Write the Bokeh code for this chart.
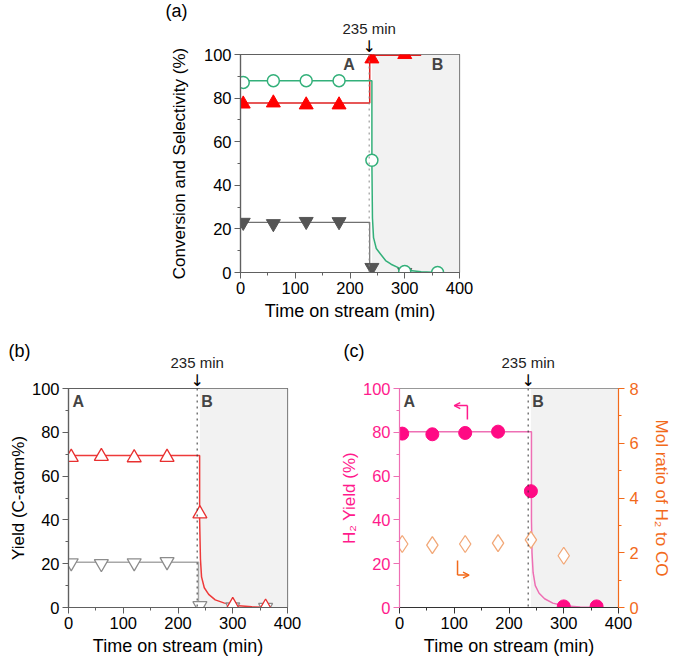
from bokeh.plotting import figure
from bokeh.layouts import column, row
from bokeh.models import (Range1d, LinearAxis, SingleIntervalTicker, Label, Arrow, Title,
                          OpenHead, Span, BoxAnnotation, Spacer)
from bokeh.embed import file_html
from bokeh.resources import INLINE

FONT = "Liberation Sans"

# ---------------- data ----------------
# panel (a)
a_conv_t = [5, 60, 120, 180, 240, 300, 360]
a_conv = [87.2, 88.0, 88.0, 88.0, 51.5, 0.5, 0.0]
a_red_t = [5, 60, 120, 180, 240, 300]
a_red = [77.3, 77.8, 76.9, 76.9, 98.0, 100.0]
a_gray_t = [5, 60, 120, 180, 240, 300]
a_gray = [23.0, 22.4, 23.4, 23.3, 2.3, 0.0]
a_conv_line_x = [5, 240, 240, 241, 243, 248, 256, 265, 275, 290, 305, 330, 360]
a_conv_line_y = [88, 88, 50, 25, 16, 11, 8.4, 5.5, 3.8, 2, 1, 0.3, 0]
a_red_line_x = [5, 236, 236, 330]
a_red_line_y = [77.8, 77.8, 99.6, 99.6]
a_gray_line_x = [5, 236, 236, 330]
a_gray_line_y = [23, 23, 0, 0]

# panel (b)
b_t = [5, 60, 120, 180, 240, 300, 360]
b_red = [68.6, 69.0, 68.4, 68.6, 42.8, 0.9, 0.2]
b_gray = [20.4, 20.0, 20.4, 20.9, 0.8, 0.2, 0.0]
b_red_line_x = [0, 239.5, 239.5, 241, 243, 248, 256, 268, 285, 305, 335, 360]
b_red_line_y = [69.4, 69.4, 40, 22, 14, 9, 6, 3.5, 2, 0.9, 0.3, 0.1]
b_gray_line_x = [0, 237.5, 237.5]
b_gray_line_y = [20.7, 20.7, 0]

# panel (c)
c_t = [5, 60, 120, 180, 240, 300, 360]
c_h2 = [79.4, 79.1, 79.7, 80.3, 53.1, 0.5, 0.5]
c_ratio_t = [5, 60, 120, 180, 240, 300]
c_ratio = [2.32, 2.28, 2.32, 2.35, 2.47, 1.89]
c_line_x = [0, 241, 241, 242, 244, 248, 255, 265, 280, 300, 330, 360]
c_line_y = [80.2, 80.2, 40, 25, 16, 10, 6.5, 4, 2, 0.8, 0.2, 0]

x_ticks_interval = 100
y_ticks_interval = 20
ratio_ticks_interval = 2
switch_time = 235
shade_start = 240
X_MAX = 400
FRAME_W = 219
FRAME_H = 219

AXIS_GRAY = "#606060"
PINK = "#ff1a8c"
PINK_LINE = "#ee6fb4"
ORANGE = "#f26a1b"
ORANGE_LIGHT = "#f2a878"


def style_axis(ax, line_color, text_color):
    ax.axis_line_color = line_color
    ax.axis_line_width = 1.2
    ax.major_tick_line_color = line_color
    ax.minor_tick_line_color = line_color
    ax.major_tick_out = 6
    ax.major_tick_in = 0
    ax.minor_tick_out = 3
    ax.minor_tick_in = 0
    ax.major_label_text_font = FONT
    ax.major_label_text_font_size = "16.5px"
    ax.major_label_text_color = text_color
    ax.major_label_standoff = 3
    ax.axis_label_text_font = FONT
    ax.axis_label_text_font_style = "normal"
    ax.axis_label_text_color = text_color
    ax.axis_label_standoff = 4


def make_fig(left, right, top, bottom, tag, tag_offset, tag_standoff, ylabel_standoff):
    p = figure(width=left + FRAME_W + right, height=top + FRAME_H + bottom,
               x_range=Range1d(0, X_MAX), y_range=Range1d(0, 100),
               output_backend="svg", toolbar_location=None,
               min_border_left=left, min_border_right=right,
               min_border_top=top, min_border_bottom=bottom)
    p.xgrid.visible = False
    p.ygrid.visible = False
    p.background_fill_color = "white"
    p.border_fill_color = "white"
    p.outline_line_color = AXIS_GRAY
    p.outline_line_width = 1.2
    p.xaxis.ticker = SingleIntervalTicker(interval=x_ticks_interval, num_minor_ticks=2)
    p.yaxis.ticker = SingleIntervalTicker(interval=y_ticks_interval, num_minor_ticks=2)
    for ax in [p.xaxis[0], p.yaxis[0]]:
        style_axis(ax, AXIS_GRAY, "black")
    p.xaxis.axis_label = "Time on stream (min)"
    p.xaxis.axis_label_text_font_size = "18px"
    p.yaxis.axis_label_text_font_size = "17px"
    p.yaxis.axis_label_standoff = ylabel_standoff
    p.add_layout(BoxAnnotation(left=shade_start, fill_color="#f2f2f2", fill_alpha=1.0,
                               line_color=None, level="underlay"))
    # texts above the frame: arrow (closest), "235 min", panel tag (outermost)
    x_px = switch_time / X_MAX * FRAME_W
    p.add_layout(Title(text="↓", align="left", offset=x_px - 6.7, standoff=-3,
                       text_font="DejaVu Sans", text_font_size="16px",
                       text_font_style="normal", text_color="black"), "above")
    p.add_layout(Title(text="235 min", align="left", offset=x_px - 26.7, standoff=-1,
                       text_font=FONT, text_font_size="15px", text_font_style="normal",
                       text_color="#222222"), "above")
    p.title.text = tag
    p.title.align = "left"
    p.title.offset = tag_offset
    p.title.standoff = tag_standoff
    p.title.text_font = FONT
    p.title.text_font_size = "18px"
    p.title.text_font_style = "normal"
    p.title.text_color = "black"
    return p


def add_dotted(p, color):
    p.add_layout(Span(location=switch_time, dimension="height", line_color=color,
                      line_dash="dotted", line_width=1))


def add_text(p, txt, x, y, bold=True, size="16px"):
    p.add_layout(Label(x=x, y=y, text=txt, text_font=FONT, text_font_size=size,
                       text_align="center", text_baseline="middle",
                       text_font_style="bold" if bold else "normal"))


# ---------------- panel (a) ----------------
pa = make_fig(left=90, right=30, top=53, bottom=60, tag="(a)", tag_offset=-75,
              tag_standoff=-4, ylabel_standoff=12)
pa.yaxis.axis_label = "Conversion and Selectivity (%)"
add_dotted(pa, "#888888")
pa.line(a_gray_line_x, a_gray_line_y, line_color="#707070", line_width=1.2)
pa.line(a_red_line_x, a_red_line_y, line_color="#e02020", line_width=1.5)
pa.line(a_conv_line_x, a_conv_line_y, line_color="#33b07a", line_width=1.5)
pa.scatter(a_gray_t, a_gray, marker="inverted_triangle", size=14, fill_color="#555555",
           line_color="#555555")
pa.scatter(a_red_t, a_red, marker="triangle", size=14, fill_color="#ff0000", line_color="#ff0000")
pa.scatter(a_conv_t, a_conv, marker="circle", size=12, fill_color="white",
           line_color="#33b07a", line_width=1.5)
add_text(pa, "A", 198, 95.5)
add_text(pa, "B", 360, 95.5)

# ---------------- panel (b) ----------------
pb = make_fig(left=68, right=47, top=56, bottom=52, tag="(b)", tag_offset=-60,
              tag_standoff=-16, ylabel_standoff=1)
pb.yaxis.axis_label = "Yield (C-atom%)"
add_dotted(pb, "#333333")
pb.line(b_gray_line_x, b_gray_line_y, line_color="#a8a8a8", line_width=1.5)
pb.line(b_red_line_x, b_red_line_y, line_color="#ee3a3a", line_width=1.5)
pb.scatter(b_t, b_gray, marker="inverted_triangle", size=14, fill_color="white",
           line_color="#8c8c8c", line_width=1.3)
pb.scatter(b_t, b_red, marker="triangle", size=14, fill_color="white",
           line_color="#e83030", line_width=1.3)
add_text(pb, "A", 18, 94)
add_text(pb, "B", 253, 94)

# ---------------- panel (c) ----------------
pc = make_fig(left=65, right=60, top=56, bottom=52, tag="(c)", tag_offset=-56,
              tag_standoff=-16, ylabel_standoff=1)
pc.outline_line_color = None
pc.add_layout(Span(location=100, dimension="width", line_color="#333333", line_width=1.2))
style_axis(pc.yaxis[0], PINK_LINE, PINK)
pc.yaxis.axis_label_standoff = 1
style_axis(pc.xaxis[0], "#333333", "black")
pc.yaxis.axis_label = "H₂ Yield (%)"
pc.extra_y_ranges = {"ratio": Range1d(0, 8)}
rax = LinearAxis(y_range_name="ratio", axis_label="Mol ratio of H₂ to CO",
                 ticker=SingleIntervalTicker(interval=ratio_ticks_interval, num_minor_ticks=2))
style_axis(rax, ORANGE, ORANGE)
rax.axis_label_text_font_size = "17px"
rax.major_label_standoff = 5
rax.axis_label_standoff = 10
pc.add_layout(rax, "right")
add_dotted(pc, "#333333")
pc.line(c_line_x, c_line_y, line_color=PINK_LINE, line_width=1.5)
pc.scatter(c_t, c_h2, marker="circle", size=13, fill_color="#ff0a84", line_color="#ff0a84")
pc.scatter(c_ratio_t, c_ratio, marker="diamond", size=17, fill_color="white",
           line_color=ORANGE_LIGHT, line_width=1.3, y_range_name="ratio")
# bent arrows
pc.segment(x0=[124], y0=[85.8], x1=[124], y1=[92.2], line_color=PINK, line_width=1.5)
pc.add_layout(Arrow(end=OpenHead(size=6, line_color=PINK, line_width=1.5),
                    x_start=124, y_start=92.2, x_end=100, y_end=92.2,
                    line_color=PINK, line_width=1.5))
pc.segment(x0=[106], y0=[21.5], x1=[106], y1=[14.8], line_color=ORANGE, line_width=1.5)
pc.add_layout(Arrow(end=OpenHead(size=6, line_color=ORANGE, line_width=1.5),
                    x_start=106, y_start=14.8, x_end=127, y_end=14.8,
                    line_color=ORANGE, line_width=1.5))
add_text(pc, "A", 18, 94)
add_text(pc, "B", 253, 94)

layout = column(row(Spacer(width=150, height=pa.height), pa), row(pb, pc))
open("out.html", "w").write(file_html(layout, INLINE))
